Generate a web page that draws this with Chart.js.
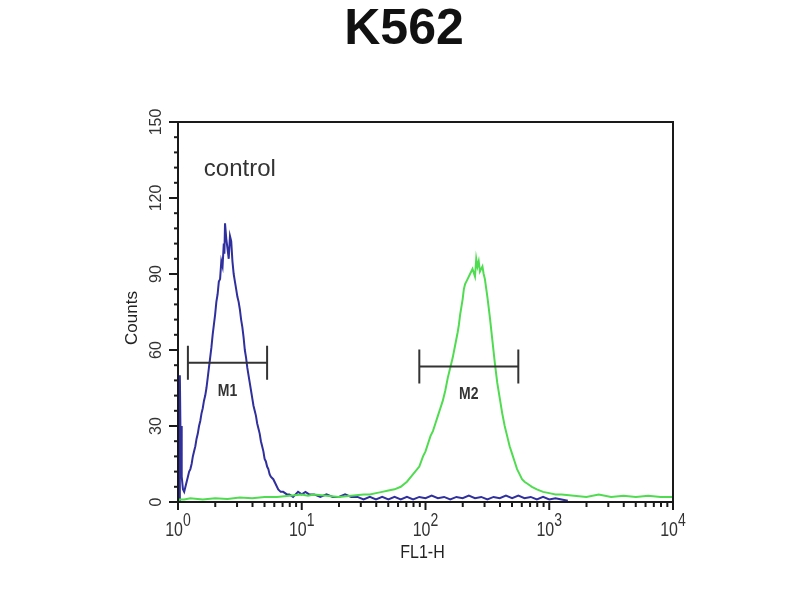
<!DOCTYPE html>
<html>
<head>
<meta charset="utf-8">
<script src="https://cdn.jsdelivr.net/npm/chart.js@4/dist/chart.umd.min.js"></script>
<style>
html,body{margin:0;padding:0;background:#fff;}
#wrap{width:800px;height:600px;position:relative;}
</style>
</head>
<body>
<div id="wrap"><canvas id="c" width="800" height="600"></canvas></div>
<script>
// ---- data (x in log10 of FL1-H, y in counts) ----
const chartTitle = "K562";
const sampleLabel = "control";
const xAxisTitle = "FL1-H";
const yAxisTitle = "Counts";
const yTicks = [0, 30, 60, 90, 120, 150];
const xDecades = [0, 1, 2, 3, 4];

const blueLog = [0.010,0.015,0.020,0.025,0.030,0.040,0.050,0.060,0.070,0.080,0.090,0.100,0.110,0.120,0.130,0.140,0.150,0.160,0.170,0.180,0.190,0.200,0.210,0.220,0.230,0.240,0.250,0.260,0.270,0.280,0.290,0.300,0.310,0.320,0.330,0.340,0.350,0.360,0.370,0.375,0.380,0.390,0.400,0.410,0.420,0.430,0.440,0.450,0.460,0.470,0.480,0.490,0.500,0.510,0.520,0.530,0.540,0.550,0.560,0.570,0.580,0.590,0.600,0.610,0.620,0.630,0.640,0.650,0.660,0.670,0.680,0.690,0.700,0.710,0.720,0.730,0.740,0.750,0.770,0.790,0.810,0.830,0.850,0.880,0.900,0.930,0.950,0.970,1.000,1.030,1.060,1.100,1.150,1.200,1.250,1.300,1.350,1.400,1.450,1.500,1.550,1.600,1.650,1.700,1.750,1.800,1.850,1.900,1.950,2.000,2.050,2.100,2.150,2.200,2.250,2.300,2.350,2.400,2.450,2.500,2.550,2.600,2.650,2.700,2.750,2.800,2.850,2.900,2.950,3.000,3.050,3.100,3.150];
const blueCounts = [0,50,28,30,10,5,4,6,8,10,12,13,15,18,20,22,25,27,30,32,35,37,40,42,45,49,53,57,61,66,70,74,79,82,87,88,95,93,102,98,110,104,100,96,105,103,95,90,87,84,81,79,76,72,69,65,60,57,53,50,47,44,41,38,36,34,31,29,27,24,22,20,17,16,14,13,11,10,9,7,5,4,4,3,3,2,3,4,3,4,3,3,2,3,2,2,3,2,2,1,2,1,2,1,2,1,2,1,2,1.5,2.5,1.5,2,1,2,1.5,2.5,1.5,2,1,2,1.5,2.5,1.5,2.5,1.5,2,1,2,1,1.5,1,0.5,0];

const greenLog = [0.00,0.01,0.05,0.10,0.20,0.30,0.40,0.50,0.60,0.70,0.80,0.90,1.00,1.05,1.10,1.20,1.30,1.40,1.50,1.55,1.60,1.65,1.70,1.75,1.80,1.85,1.90,1.95,1.98,2.00,2.02,2.04,2.06,2.08,2.10,2.12,2.14,2.16,2.18,2.20,2.22,2.24,2.26,2.27,2.28,2.30,2.31,2.32,2.34,2.36,2.38,2.40,2.41,2.42,2.43,2.44,2.46,2.47,2.48,2.50,2.52,2.54,2.56,2.57,2.58,2.60,2.62,2.64,2.66,2.68,2.70,2.72,2.74,2.76,2.78,2.80,2.83,2.86,2.90,2.95,3.00,3.05,3.10,3.20,3.30,3.40,3.50,3.60,3.70,3.80,3.90,4.00];
const greenCounts = [0,1,1,1.5,1,1.5,1.2,1.8,1.5,2,2,2.5,3,2.5,3,2.5,2,2.5,3,3,3.5,4,4.5,5,6,8,11,14,18,20,23,26,28,31,34,37,40,44,49,53,57,62,67,70,74,80,84,86,88,90,92,89,96,93,95,91,93,90,88,81,73,64,55,51,47,41,35,30,26,22,19,16,13,11,9,8,7,6,5,4,3.5,3,3,2.5,2,3,2,2.5,2,2.5,2,2];

// gates
const gateNames = ["M1", "M2"];
const gateStart = [0.08, 1.95];
const gateEnd = [0.72, 2.75];
const gateLevel = [55, 53.5];

const toPts = (xs, ys) => xs.map((v, i) => ({x: v, y: ys[i]}));

const FONT = '"Liberation Sans", Arial, sans-serif';

const overlay = {
  id: 'overlay',
  afterDatasetsDraw(chart) {
    const {ctx, chartArea: a, scales: {x, y}} = chart;
    ctx.save();
    // gates
    ctx.strokeStyle = '#333';
    ctx.lineWidth = 2;
    ctx.fillStyle = '#333';
    gateNames.forEach((g, i) => {
      const x0 = x.getPixelForValue(gateStart[i]);
      const x1 = x.getPixelForValue(gateEnd[i]);
      const yy = y.getPixelForValue(gateLevel[i]);
      const h = 17;
      ctx.beginPath();
      ctx.moveTo(x0, yy); ctx.lineTo(x1, yy);
      ctx.moveTo(x0, yy - h); ctx.lineTo(x0, yy + h);
      ctx.moveTo(x1, yy - h); ctx.lineTo(x1, yy + h);
      ctx.stroke();
      const cx = (x0 + x1) / 2;
      ctx.save();
      ctx.translate(cx, yy + 33);
      ctx.scale(1, 1.2);
      ctx.font = 'bold 14px ' + FONT;
      ctx.textAlign = 'center';
      ctx.textBaseline = 'alphabetic';
      ctx.fillText(g, 0, 0);
      ctx.restore();
    });
    // frame
    ctx.strokeStyle = '#1a1a1a';
    ctx.lineWidth = 2;
    ctx.strokeRect(a.left, a.top, a.right - a.left, a.bottom - a.top);
    // y ticks
    ctx.lineWidth = 2;
    for (let v = 0; v <= 150; v += 6) {
      const py = y.getPixelForValue(v);
      const major = yTicks.includes(v);
      ctx.beginPath();
      ctx.moveTo(a.left, py);
      ctx.lineTo(a.left - (major ? 9 : 4), py);
      ctx.stroke();
    }
    ctx.fillStyle = '#333';
    ctx.font = '16px ' + FONT;
    yTicks.forEach(v => {
      const py = y.getPixelForValue(v);
      ctx.save();
      ctx.translate(a.left - 17, py);
      ctx.rotate(-Math.PI / 2);
      ctx.textAlign = 'center';
      ctx.textBaseline = 'alphabetic';
      ctx.fillText(String(v), 0, 0);
      ctx.restore();
    });
    // x ticks (log decades with minor)
    xDecades.forEach(d => {
      const px = x.getPixelForValue(d);
      ctx.beginPath();
      ctx.moveTo(px, a.bottom); ctx.lineTo(px, a.bottom + 8);
      ctx.stroke();
      if (d < 4) {
        for (let k = 2; k <= 9; k++) {
          const mx = x.getPixelForValue(d + Math.log10(k));
          ctx.beginPath();
          ctx.moveTo(mx, a.bottom); ctx.lineTo(mx, a.bottom + 5);
          ctx.stroke();
        }
      }
      ctx.save();
      ctx.font = '16px ' + FONT;
      const wBase = ctx.measureText('10').width;
      ctx.font = '14px ' + FONT;
      const wExp = ctx.measureText(String(d)).width;
      const left = px - (wBase + wExp) / 2;
      ctx.translate(left, a.bottom + 34);
      ctx.scale(1, 1.3);
      ctx.textAlign = 'left';
      ctx.textBaseline = 'alphabetic';
      ctx.font = '16px ' + FONT;
      ctx.fillStyle = '#333';
      ctx.fillText('10', 0, 0);
      ctx.font = '14px ' + FONT;
      ctx.fillText(String(d), wBase, -8);
      ctx.restore();
    });
    // axis titles
    ctx.fillStyle = '#222';
    ctx.save();
    ctx.translate((a.left + a.right) / 2 - 3, a.bottom + 56);
    ctx.scale(1, 1.2);
    ctx.font = '16px ' + FONT;
    ctx.textAlign = 'center';
    ctx.fillText(xAxisTitle, 0, 0);
    ctx.restore();
    ctx.save();
    ctx.translate(137, (a.top + a.bottom) / 2 + 6);
    ctx.rotate(-Math.PI / 2);
    ctx.font = '17px ' + FONT;
    ctx.textAlign = 'center';
    ctx.fillText(yAxisTitle, 0, 0);
    ctx.restore();
    // sample label
    ctx.fillStyle = '#333';
    ctx.font = '24px ' + FONT;
    ctx.textAlign = 'center';
    ctx.fillText(sampleLabel, x.getPixelForValue(0.5), y.getPixelForValue(128.5));
    // title
    ctx.fillStyle = '#111';
    ctx.font = 'bold 50px ' + FONT;
    ctx.textAlign = 'center';
    ctx.fillText(chartTitle, 404, 44);
    ctx.restore();
  }
};

new Chart(document.getElementById('c'), {
  type: 'line',
  data: {
    datasets: [
      {label: 'sample', data: toPts(greenLog, greenCounts), borderColor: '#50dc50', borderWidth: 2, pointRadius: 0, tension: 0, fill: false},
      {label: 'control', data: toPts(blueLog, blueCounts), borderColor: '#2f2f9e', borderWidth: 2, pointRadius: 0, tension: 0, fill: false}
    ]
  },
  options: {
    responsive: false,
    animation: false,
    events: [],
    layout: {padding: {left: 178, right: 127, top: 122, bottom: 98}},
    plugins: {legend: {display: false}, title: {display: false}, tooltip: {enabled: false}},
    scales: {
      x: {type: 'linear', min: 0, max: 4, display: false},
      y: {type: 'linear', min: 0, max: 150, display: false}
    }
  },
  plugins: [overlay]
});
</script>
</body>
</html>
